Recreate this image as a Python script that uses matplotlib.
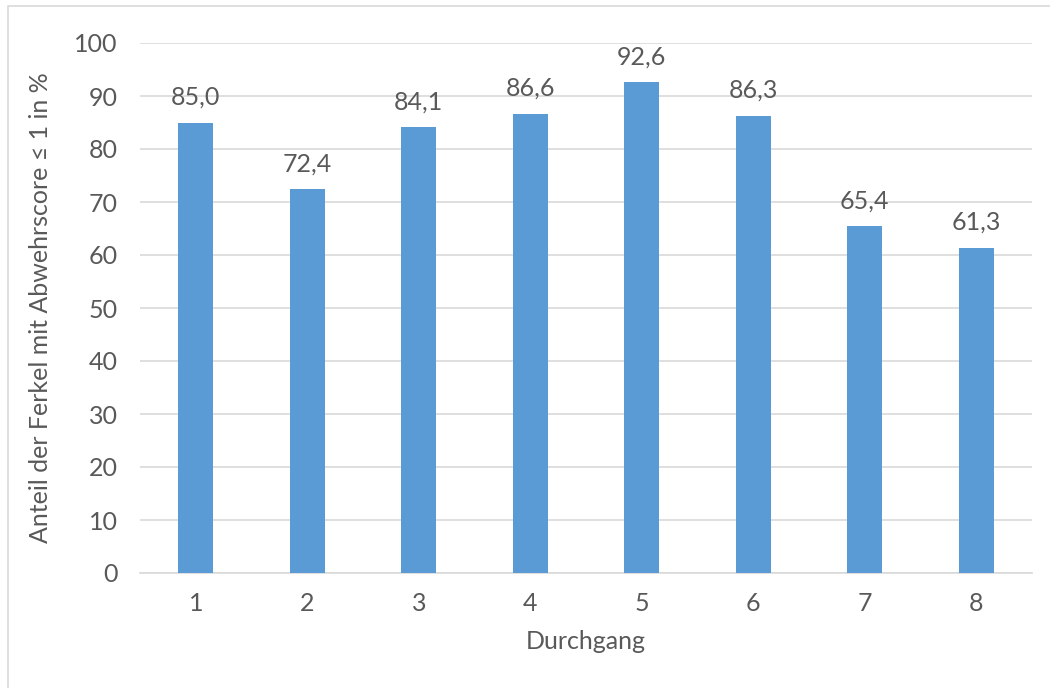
import matplotlib
matplotlib.use("Agg")
import matplotlib.pyplot as plt
from matplotlib.patches import Rectangle

categories = ["1", "2", "3", "4", "5", "6", "7", "8"]
values = [85.0, 72.4, 84.1, 86.6, 92.6, 86.3, 65.4, 61.3]
yticks = [0, 10, 20, 30, 40, 50, 60, 70, 80, 90, 100]

plt.rcParams['font.family'] = ['Lato', 'DejaVu Sans']
txt = '#595959'
grid = '#D9D9D9'
fs = 18

fig = plt.figure(figsize=(10.5, 6.88), dpi=100)
fig.patches.append(Rectangle((8/1050, -0.1), 1.2, 1.1 - 6/688, transform=fig.transFigure,
                             fill=False, edgecolor=grid, linewidth=1.2, clip_on=False))
ax = fig.add_axes([140/1050, 1-573/688, 892/1050, 530/688])

x = list(range(len(categories)))
ax.bar(x, values, width=0.314, color='#5B9BD5', zorder=3)
for xi, v in zip(x, values):
    ax.annotate(f"{v:.1f}".replace('.', ','), (xi, v), xytext=(0, 13),
                textcoords='offset points', ha='center', va='baseline',
                fontsize=fs, color=txt)

ax.set_xlim(-0.5, len(categories) - 0.5)
ax.set_ylim(0, 100)
ax.set_yticks(yticks)
ax.set_xticks(x)
ax.set_xticklabels(categories)
ax.yaxis.grid(True, color=grid, linewidth=1.2, zorder=0)
ax.set_axisbelow(True)
for s in ['top', 'right', 'left']:
    ax.spines[s].set_visible(False)
ax.spines['bottom'].set_color(grid)
ax.spines['bottom'].set_linewidth(1.2)
ax.tick_params(axis='both', length=0, labelsize=fs, labelcolor=txt)
ax.tick_params(axis='y', pad=16)
ax.tick_params(axis='x', pad=14)

ax.set_ylabel("Anteil der Ferkel mit Abwehrscore ≤ 1 in %", fontsize=fs, color=txt)
ax.set_xlabel("Durchgang", fontsize=fs, color=txt)
ax.yaxis.set_label_coords(-0.099, 0.5)
ax.xaxis.set_label_coords(0.5, -0.1075)

fig.savefig("out.png", dpi=100)
